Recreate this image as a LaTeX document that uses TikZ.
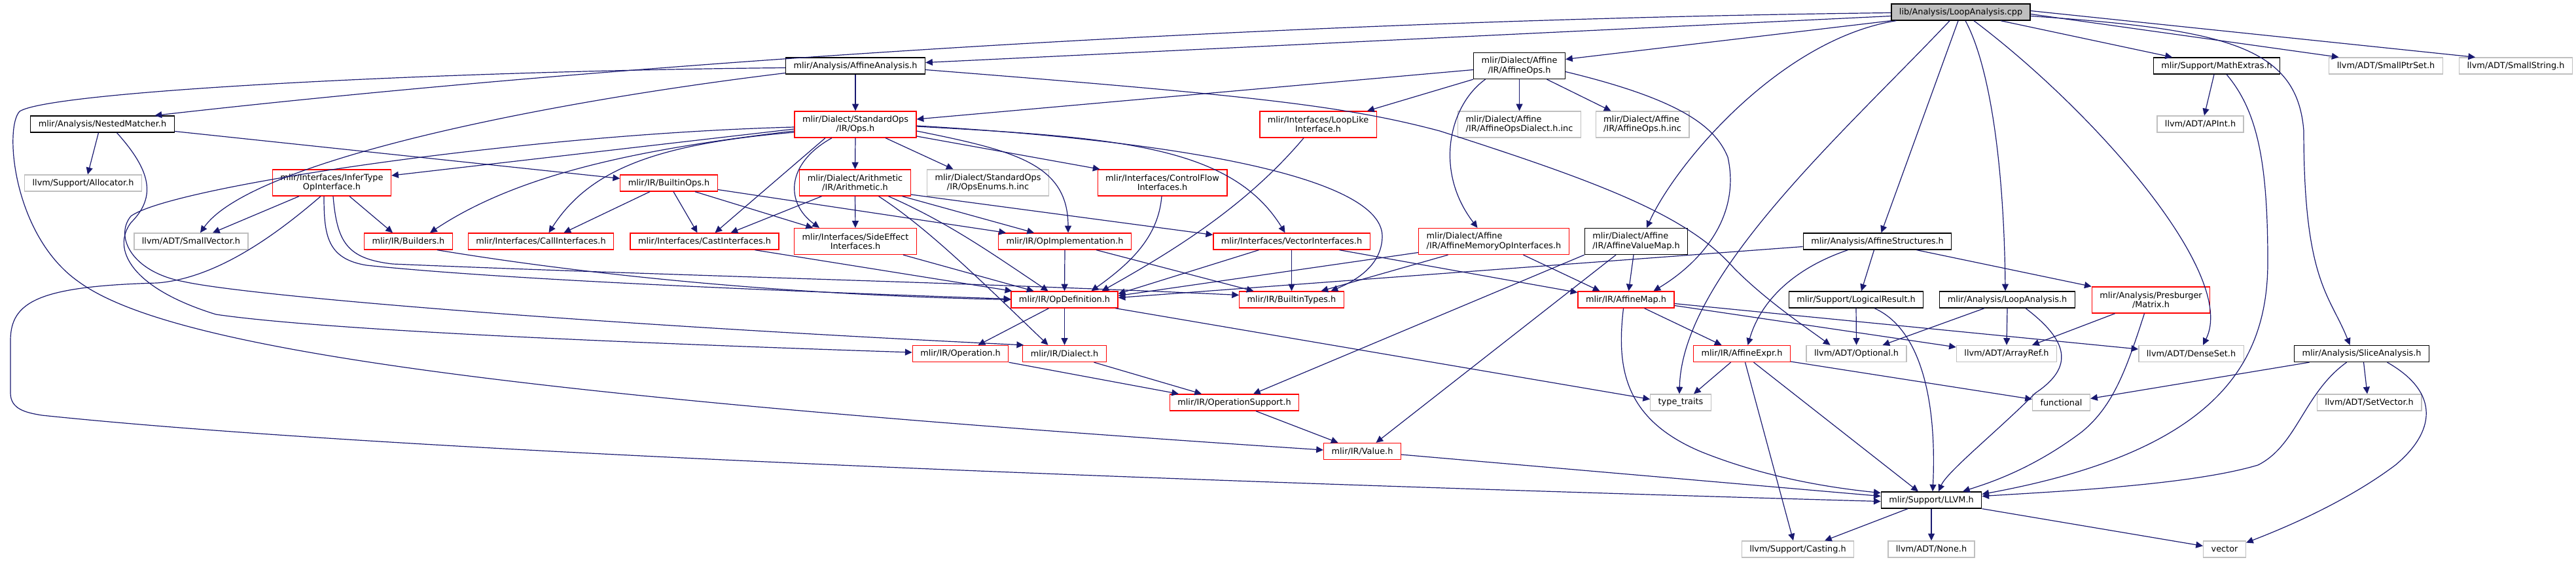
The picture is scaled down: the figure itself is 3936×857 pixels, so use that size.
\documentclass[tikz,border=0pt]{standalone}
\usepackage{fontspec}
\setmainfont{DejaVu Sans}
\usepackage{tikz}
\usetikzlibrary{arrows.meta, calc, positioning}
\definecolor{dxEdge}{HTML}{191970}
\definecolor{dxRed}{HTML}{FF0000}
\definecolor{dxGrey}{HTML}{BFBFBF}
\tikzset{
  hdr/.style={rectangle, draw, line width=1pt, fill=white, minimum height=18.75pt,
    inner xsep=9pt, inner ysep=0pt, align=center, text=black,
    font=\fontsize{9.64}{10.8}\selectfont},
  hdrDoc/.style={hdr, draw=black},
  hdrRed/.style={hdr, draw=dxRed},
  hdrExt/.style={hdr, draw=dxGrey},
  hdrSrc/.style={hdr, draw=black, fill=dxGrey},
  twoRow/.style={minimum height=30pt},
  dep/.style={draw=dxEdge, line width=0.9pt, -{Triangle[length=8pt, width=7.5pt]}}
}
\begin{document}
\begin{tikzpicture}[x=0.75pt, y=-0.75pt]
    \useasboundingbox (0,0) rectangle (3936,857);
    % rank 0 and 1
    \node[hdrSrc] (root) at (2996,18.5) {lib/Analysis/LoopAnalysis.cpp};
    \node[hdrDoc] (affAna) at (1307,100.5) {mlir/Analysis/AffineAnalysis.h};
    \node[hdrDoc, twoRow] (affOps) at (2321.5,100.5) {mlir/Dialect/Affine\\/IR/AffineOps.h};
    \node[hdrDoc] (mathEx) at (3387,100.5) {mlir/Support/MathExtras.h};
    \node[hdrExt] (ptrSet) at (3645.5,100.5) {llvm/ADT/SmallPtrSet.h};
    \node[hdrExt] (smStr) at (3844,100.5) {llvm/ADT/SmallString.h};
    % rank 2
    \node[hdrDoc] (nested) at (156.5,189.5) {mlir/Analysis/NestedMatcher.h};
    \node[hdrRed, twoRow] (stdOps) at (1307,190) {mlir/Dialect/StandardOps\\/IR/Ops.h};
    \node[hdrRed, twoRow] (loopLike) at (2014,190) {mlir/Interfaces/LoopLike\\Interface.h};
    \node[hdrExt, twoRow, align=left] (affDial) at (2321.5,190) {mlir/Dialect/Affine\\/IR/AffineOpsDialect.h.inc};
    \node[hdrExt, twoRow, align=left] (affInc) at (2509.5,190) {mlir/Dialect/Affine\\/IR/AffineOps.h.inc};
    \node[hdrExt] (apint) at (3362,189.5) {llvm/ADT/APInt.h};
    % rank 3
    \node[hdrExt] (alloc) at (127,279.5) {llvm/Support/Allocator.h};
    \node[hdrRed, twoRow] (inferTy) at (507,279) {mlir/Interfaces/InferType\\OpInterface.h};
    \node[hdrRed] (bOps) at (1022,279.5) {mlir/IR/BuiltinOps.h};
    \node[hdrRed, twoRow] (arith) at (1306.5,279) {mlir/Dialect/Arithmetic\\/IR/Arithmetic.h};
    \node[hdrExt, twoRow] (enums) at (1509.5,279) {mlir/Dialect/StandardOps\\/IR/OpsEnums.h.inc};
    \node[hdrRed, twoRow] (ctrlFlow) at (1776,279) {mlir/Interfaces/ControlFlow\\Interfaces.h};
    % rank 4
    \node[hdrExt] (smVec) at (292,368.5) {llvm/ADT/SmallVector.h};
    \node[hdrRed] (builders) at (624,368.5) {mlir/IR/Builders.h};
    \node[hdrRed] (callIf) at (826.5,368.5) {mlir/Interfaces/CallInterfaces.h};
    \node[hdrRed] (castIf) at (1076.5,368.5) {mlir/Interfaces/CastInterfaces.h};
    \node[hdrRed, twoRow] (sideEff) at (1307,368.5) {mlir/Interfaces/SideEffect\\Interfaces.h};
    \node[hdrRed] (opImpl) at (1627,368.5) {mlir/IR/OpImplementation.h};
    \node[hdrRed] (vecIf) at (1973.5,368.5) {mlir/Interfaces/VectorInterfaces.h};
    \node[hdrRed, twoRow, align=left] (affMem) at (2282.5,368.5) {mlir/Dialect/Affine\\/IR/AffineMemoryOpInterfaces.h};
    \node[hdrDoc, twoRow, align=left] (affVMap) at (2500,368.5) {mlir/Dialect/Affine\\/IR/AffineValueMap.h};
    \node[hdrDoc] (affStr) at (2868.5,368.5) {mlir/Analysis/AffineStructures.h};
    % rank 5
    \node[hdrRed] (opDef) at (1626.5,457.5) {mlir/IR/OpDefinition.h};
    \node[hdrRed] (bTypes) at (1973.5,457.5) {mlir/IR/BuiltinTypes.h};
    \node[hdrRed] (affMap) at (2484.5,457.5) {mlir/IR/AffineMap.h};
    \node[hdrDoc] (logRes) at (2836,457.5) {mlir/Support/LogicalResult.h};
    \node[hdrDoc] (loopAnaH) at (3067,457.5) {mlir/Analysis/LoopAnalysis.h};
    \node[hdrRed, twoRow] (presb) at (3286.5,458) {mlir/Analysis/Presburger\\/Matrix.h};
    % rank 6
    \node[hdrRed] (operation) at (1467.5,540) {mlir/IR/Operation.h};
    \node[hdrRed] (dialect) at (1626.5,540) {mlir/IR/Dialect.h};
    \node[hdrRed] (affExpr) at (2661.5,540) {mlir/IR/AffineExpr.h};
    \node[hdrExt] (optional) at (2836.5,540) {llvm/ADT/Optional.h};
    \node[hdrExt] (arrayRef) at (3066,540) {llvm/ADT/ArrayRef.h};
    \node[hdrExt] (denseSet) at (3348,540) {llvm/ADT/DenseSet.h};
    \node[hdrDoc] (slice) at (3608.5,540) {mlir/Analysis/SliceAnalysis.h};
    % rank 7 and below
    \node[hdrRed] (opSupp) at (1886,614.5) {mlir/IR/OperationSupport.h};
    \node[hdrExt] (typeTr) at (2568,614.5) {type\_traits};
    \node[hdrExt] (functional) at (3149.5,614.5) {functional};
    \node[hdrExt] (setVec) at (3620,614.5) {llvm/ADT/SetVector.h};
    \node[hdrRed] (value) at (2081.5,689) {mlir/IR/Value.h};
    \node[hdrDoc] (llvmH) at (2951,763.5) {mlir/Support/LLVM.h};
    \node[hdrExt] (casting) at (2747,838.5) {llvm/Support/Casting.h};
    \node[hdrExt] (noneH) at (2951,838.5) {llvm/ADT/None.h};
    \node[hdrExt] (vector) at (3399,838.5) {vector};

    % includes of the source file
    \draw[dep] ($(root.west)+(0,6)$) -- ($(affAna.east)+(0,-5)$);
    \draw[dep] ($(root.west)+(0,1)$) .. controls (2000,30) and (1000,90) .. ($(nested.north)+(80,0)$);
    \draw[dep] (root.south west) -- ($(affOps.east)+(0,-10)$);
    \draw[dep] ($(root.south west)+(8,0)$) .. controls (2720,60) and (2560,250) .. ($(affVMap.north)+(16,0)$);
    \draw[dep] ($(root.south)+(-17,0)$) .. controls (2820,200) and (2570,420) .. ($(typeTr.north)+(-2,0)$);
    \draw[dep] ($(root.south)+(-4,0)$) -- ($(affStr.north)+(6,0)$);
    \draw[dep] ($(root.south)+(7,0)$) .. controls (3040,100) and (3062,250) .. ($(loopAnaH.north)+(-3,0)$);
    \draw[dep] ($(root.south)+(20,0)$) .. controls (3200,170) and (3420,420) .. ($(denseSet.north)+(18,0)$);
    \draw[dep] ($(root.south)+(61,0)$) -- ($(mathEx.north)+(-68,0)$);
    \draw[dep] ($(root.east)+(0,3)$) -- ($(ptrSet.north)+(-72,0)$);
    \draw[dep] ($(root.east)+(0,-2)$) -- ($(smStr.north)+(-62,0)$);
    \draw[dep] ($(root.east)+(0,6)$) .. controls (3400,45) and (3510,70) .. (3520,200)
      .. controls (3520,430) and (3560,450) .. ($(slice.north)+(-18,0)$);

    % rank 1 sources
    \draw[dep] (affAna.south) -- (stdOps.north);
    \draw[dep] ($(affAna.west)+(0,11)$) .. controls (800,160) and (380,250) .. ($(smVec.north)+(14,0)$);
    \draw[dep] ($(affAna.west)+(0,3)$) .. controls (700,108) and (80,138) .. (30,170)
      .. controls (6,195) and (20,360) .. (120,430) .. controls (250,525) and (700,600) .. ($(value.west)+(0,-2)$);
    \draw[dep] ($(affAna.east)+(0,6)$) .. controls (1900,145) and (2050,160) .. (2200,200)
      .. controls (2450,280) and (2580,330) .. (2650,410) .. controls (2700,460) and (2760,500) .. ($(optional.north)+(-40,0)$);
    \draw[dep] ($(affOps.west)+(0,6)$) -- ($(stdOps.east)+(0,-8)$);
    \draw[dep] (affOps.south west) -- ($(loopLike.north)+(75,0)$);
    \draw[dep] (affOps.south) -- (affDial.north);
    \draw[dep] ($(affOps.south)+(42,0)$) -- ($(affInc.north)+(-48,0)$);
    \draw[dep] ($(affOps.south)+(-52,0)$) .. controls (2215,160) and (2190,260) .. ($(affMem.north)+(-25,0)$);
    \draw[dep] ($(affOps.east)+(0,9)$) .. controls (2560,150) and (2620,190) .. (2640,240)
      .. controls (2660,330) and (2600,400) .. ($(affMap.north)+(42,0)$);
    \draw[dep] ($(mathEx.south)+(-4,0)$) -- ($(apint.north)+(6,0)$);
    \draw[dep] ($(mathEx.south)+(15,0)$) .. controls (3450,170) and (3465,250) .. (3465,400)
      .. controls (3465,560) and (3380,690) .. ($(llvmH.east)+(0,-9)$);

    % rank 2 sources
    \draw[dep] ($(nested.south)+(-6,0)$) -- ($(alloc.north)+(7,0)$);
    \draw[dep] ($(nested.east)+(0,11)$) -- ($(bOps.west)+(0,-7)$);
    \draw[dep] ($(nested.south)+(22,0)$) .. controls (230,260) and (240,300) .. (200,340)
      .. controls (170,380) and (200,440) .. (330,480) .. controls (500,505) and (1000,525) .. ($(operation.west)+(0,-2)$);
    \draw[dep] ($(stdOps.west)+(0,7)$) -- ($(inferTy.east)+(0,-11)$);
    \draw[dep] ($(stdOps.west)+(0,10)$) .. controls (1000,225) and (800,260) .. ($(builders.north)+(33,0)$);
    \draw[dep] ($(stdOps.west)+(0,12)$) .. controls (1000,220) and (900,260) .. ($(callIf.north)+(12,0)$);
    \draw[dep] ($(stdOps.west)+(0,4)$) .. controls (800,205) and (260,285) .. (200,330)
      .. controls (175,360) and (200,415) .. (281,430) .. controls (380,452) and (900,495) .. ($(dialect.north west)+(2,0)$);
    \draw[dep] ($(stdOps.south)+(-46,0)$) -- ($(castIf.north)+(16,0)$);
    \draw[dep] ($(stdOps.south)+(-36,0)$) .. controls (1200,250) and (1200,310) .. ($(sideEff.north)+(-55,0)$);
    \draw[dep] (stdOps.south) -- (arith.north);
    \draw[dep] ($(stdOps.south)+(46,0)$) -- ($(enums.north)+(-53,0)$);
    \draw[dep] ($(stdOps.east)+(0,18)$) -- ($(ctrlFlow.north west)+(4,0)$);
    \draw[dep] ($(stdOps.east)+(0,10)$) .. controls (1550,230) and (1632,250) .. ($(opImpl.north)+(5,0)$);
    \draw[dep] ($(stdOps.east)+(0,3)$) .. controls (1700,210) and (1880,220) .. ($(vecIf.north)+(-10,0)$);
    \draw[dep] ($(stdOps.east)+(0,2)$) .. controls (1800,215) and (2110,270) .. (2112,360)
      .. controls (2112,400) and (2080,425) .. ($(bTypes.north)+(60,0)$);

    % rank 3 sources
    \draw[dep] (arith.south) -- (sideEff.north);
    \draw[dep] ($(arith.south)+(-51,0)$) -- ($(castIf.north)+(40,0)$);
    \draw[dep] ($(arith.south)+(36,0)$) .. controls (1420,350) and (1500,430) .. ($(dialect.north)+(-25,0)$);
    \draw[dep] ($(arith.south)+(51,0)$) .. controls (1450,340) and (1520,390) .. ($(opDef.north)+(-25,0)$);
    \draw[dep] ($(arith.south)+(72,0)$) -- ($(opImpl.north)+(-47,0)$);
    \draw[dep] ($(arith.east)+(0,18)$) -- ($(vecIf.west)+(0,-10)$);
    \draw[dep] ($(bOps.south)+(-29,0)$) -- ($(callIf.north)+(35,0)$);
    \draw[dep] ($(bOps.south)+(7,0)$) -- ($(castIf.north)+(-11,0)$);
    \draw[dep] ($(bOps.south)+(40,0)$) -- ($(sideEff.north)+(-65,0)$);
    \draw[dep] ($(bOps.east)+(0,10)$) -- ($(opImpl.north)+(-90,0)$);
    \draw[dep] ($(inferTy.south)+(-50,0)$) -- ($(smVec.north)+(33,0)$);
    \draw[dep] ($(inferTy.south)+(27,0)$) -- ($(builders.north)+(-24,0)$);
    \draw[dep] ($(inferTy.south)+(-17,0)$) .. controls (420,360) and (330,425) .. (240,432)
      .. controls (60,437) and (16,460) .. (16,520) -- (16,600) .. controls (16,625) and (40,630) .. (64,634)
      .. controls (600,690) and (1800,735) .. ($(llvmH.west)+(0,2)$);
    \draw[dep] ($(inferTy.south)+(-12,0)$) .. controls (495,360) and (500,395) .. (560,405)
      .. controls (800,430) and (1300,448) .. ($(opDef.west)+(0,-1)$);
    \draw[dep] ($(inferTy.south)+(2,0)$) .. controls (515,370) and (530,395) .. (600,403)
      .. controls (1000,420) and (1500,432) .. ($(bTypes.west)+(0,-7)$);
    \draw[dep] ($(ctrlFlow.south)+(-1,0)$) .. controls (1770,360) and (1730,400) .. ($(opDef.north)+(41,0)$);
    \draw[dep] ($(loopLike.south)+(-22,0)$) .. controls (1900,320) and (1780,390) .. ($(opDef.north)+(57,0)$);

    % rank 4 sources
    \draw[dep] ($(builders.south)+(44,0)$) .. controls (900,420) and (1200,450) .. (opDef.west);
    \draw[dep] ($(castIf.south)+(77,0)$) -- ($(opDef.north west)+(2,0)$);
    \draw[dep] ($(sideEff.south)+(73,0)$) -- ($(opDef.north)+(-47,0)$);
    \draw[dep] (opImpl.south) -- (opDef.north);
    \draw[dep] ($(opImpl.south)+(48,0)$) -- ($(bTypes.north)+(-58,0)$);
    \draw[dep] ($(vecIf.south)+(-50,0)$) -- ($(opDef.east)+(0,-9)$);
    \draw[dep] (vecIf.south) -- (bTypes.north);
    \draw[dep] ($(vecIf.south)+(73,0)$) -- ($(affMap.west)+(0,-11)$);
    \draw[dep] ($(affMem.west)+(0,17)$) -- ($(opDef.east)+(0,-6)$);
    \draw[dep] ($(affMem.south)+(-70,0)$) -- ($(bTypes.north)+(45,0)$);
    \draw[dep] ($(affMem.south)+(45,0)$) -- ($(affMap.north)+(-40,0)$);
    \draw[dep] (affVMap.south west) -- ($(opSupp.north)+(29,0)$);
    \draw[dep] ($(affVMap.south)+(-31,0)$) -- ($(value.north)+(21,0)$);
    \draw[dep] ($(affVMap.south)+(-4,0)$) -- ($(affMap.north)+(4,0)$);
    \draw[dep] ($(affStr.west)+(0,8)$) -- ($(opDef.east)+(0,-3)$);
    \draw[dep] ($(affStr.south)+(-45,0)$) .. controls (2740,410) and (2690,460) .. ($(affExpr.north)+(9,0)$);
    \draw[dep] ($(affStr.south)+(-5,0)$) -- ($(logRes.north)+(8,0)$);
    \draw[dep] ($(affStr.south)+(60,0)$) -- (presb.north west);

    % rank 5 sources
    \draw[dep] ($(opDef.south)+(-24,0)$) -- ($(operation.north)+(27,0)$);
    \draw[dep] (opDef.south) -- (dialect.north);
    \draw[dep] ($(opDef.south)+(78,0)$) -- ($(typeTr.west)+(0,-5)$);
    \draw[dep] ($(affMap.south)+(28,0)$) -- ($(affExpr.north)+(-31,0)$);
    \draw[dep] ($(affMap.south)+(-4,0)$) .. controls (2470,560) and (2480,640) .. (2600,690)
      .. controls (2700,730) and (2800,745) .. ($(llvmH.west)+(0,-11)$);
    \draw[dep] ($(affMap.east)+(0,9)$) -- ($(arrayRef.west)+(0,-10)$);
    \draw[dep] ($(affMap.east)+(0,6)$) -- ($(denseSet.west)+(0,-7)$);
    \draw[dep] (logRes.south) -- (optional.north);
    \draw[dep] ($(logRes.south)+(28,0)$) .. controls (2930,500) and (2960,600) .. ($(llvmH.north)+(2,0)$);
    \draw[dep] ($(loopAnaH.south)+(-35,0)$) -- ($(optional.north)+(40,0)$);
    \draw[dep] (loopAnaH.south) -- (arrayRef.north);
    \draw[dep] ($(loopAnaH.south)+(28,0)$) .. controls (3160,520) and (3170,560) .. (3110,600)
      .. controls (3050,660) and (2975,720) .. ($(llvmH.north)+(11,0)$);
    \draw[dep] ($(presb.south)+(-55,0)$) -- ($(arrayRef.north)+(39,0)$);
    \draw[dep] ($(presb.south)+(-10,0)$) .. controls (3250,560) and (3230,620) .. (3180,660)
      .. controls (3100,720) and (3030,740) .. ($(llvmH.north)+(48,0)$);

    % rank 6 and below
    \draw[dep] (operation.south east) -- ($(opSupp.north)+(-85,0)$);
    \draw[dep] ($(dialect.south)+(45,0)$) -- ($(opSupp.north)+(-50,0)$);
    \draw[dep] ($(affExpr.south)+(-17,0)$) -- ($(typeTr.north)+(20,0)$);
    \draw[dep] ($(affExpr.south)+(5,0)$) -- ($(casting.north)+(-7,0)$);
    \draw[dep] ($(affExpr.south)+(18,0)$) -- ($(llvmH.north)+(-20,0)$);
    \draw[dep] ($(affExpr.east)+(0,12)$) -- ($(functional.west)+(0,-5)$);
    \draw[dep] ($(slice.south)+(-80,0)$) -- ($(functional.east)+(0,-6)$);
    \draw[dep] ($(slice.south)+(-23,0)$) .. controls (3520,600) and (3510,680) .. (3450,710)
      .. controls (3350,740) and (3150,750) .. ($(llvmH.east)+(0,-6)$);
    \draw[dep] ($(slice.south)+(3,0)$) -- ($(setVec.north)+(-3,0)$);
    \draw[dep] ($(slice.south)+(39,0)$) .. controls (3730,600) and (3720,660) .. (3660,710)
      .. controls (3580,770) and (3480,810) .. ($(vector.east)+(0,-10)$);
    \draw[dep] ($(opSupp.south)+(33,0)$) -- ($(value.north)+(-37,0)$);
    \draw[dep] ($(value.east)+(0,5)$) -- ($(llvmH.west)+(0,-6)$);
    \draw[dep] ($(llvmH.south)+(-36,0)$) -- ($(casting.north)+(41,0)$);
    \draw[dep] (llvmH.south) -- (noneH.north);
    \draw[dep] (llvmH.south east) -- ($(vector.west)+(0,-5)$);
\end{tikzpicture}
\end{document}
